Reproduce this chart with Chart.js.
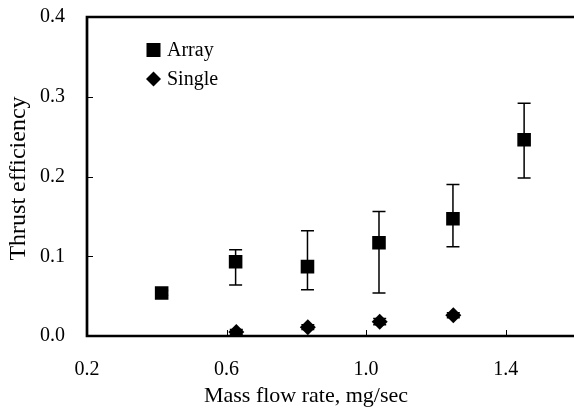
<!DOCTYPE html>
<html>
<head>
<meta charset="utf-8">
<script src="https://cdn.jsdelivr.net/npm/chart.js@4.4.1/dist/chart.umd.min.js"></script>
<style>
html,body{margin:0;padding:0;background:#fff;overflow:hidden;}
#wrap{width:585px;height:408px;position:relative;}
</style>
</head>
<body>
<div id="wrap"><canvas id="c" width="585" height="408"></canvas></div>
<script>
// Data
const arrayFlow = [0.414, 0.626, 0.832, 1.037, 1.249, 1.453];
const arrayEff  = [0.054, 0.093, 0.087, 0.117, 0.147, 0.246];
const arrayHigh = [0.057, 0.108, 0.132, 0.156, 0.190, 0.292];
const arrayLow  = [0.051, 0.064, 0.058, 0.054, 0.112, 0.198];

const singleFlow = [0.628, 0.833, 1.039, 1.250];
const singleEff  = [0.005, 0.011, 0.018, 0.026];
const singleHigh = [0.008, 0.014, 0.022, 0.029];
const singleLow  = [0.002, 0.008, 0.014, 0.023];

const xTicks = [0.2, 0.6, 1.0, 1.4];
const yTicks = [0.0, 0.1, 0.2, 0.3, 0.4];

const xTitle = 'Mass flow rate, mg/sec';
const yTitle = 'Thrust efficiency';

const FONT = "'Liberation Serif', 'Times New Roman', serif";

function pts(xs, ys){ return xs.map((x,i)=>({x:x, y:ys[i]})); }

const errorBars = {
  id:'errorBars',
  afterDatasetsDraw(chart){
    const ctx = chart.ctx, xs = chart.scales.x, ys = chart.scales.y;
    chart.data.datasets.forEach(ds=>{
      ctx.save();
      ctx.strokeStyle = '#000';
      ctx.lineWidth = 1.5;
      ds.data.forEach((p,i)=>{
        const px = xs.getPixelForValue(p.x);
        const hi = ys.getPixelForValue(ds.errHigh[i]);
        const lo = ys.getPixelForValue(ds.errLow[i]);
        ctx.beginPath();
        ctx.moveTo(px, hi); ctx.lineTo(px, lo);
        ctx.moveTo(px-6.5, hi); ctx.lineTo(px+6.5, hi);
        ctx.moveTo(px-6.5, lo); ctx.lineTo(px+6.5, lo);
        ctx.stroke();
      });
      ctx.restore();
    });
  }
};

const frame = {
  id:'frame',
  afterDraw(chart){
    const ctx = chart.ctx, a = chart.chartArea, xs = chart.scales.x, ys = chart.scales.y;
    ctx.save();
    ctx.strokeStyle = '#000';
    // inner ticks
    ctx.lineWidth = 1;
    yTicks.forEach(v=>{
      const py = Math.round(ys.getPixelForValue(v))+0.5;
      ctx.beginPath(); ctx.moveTo(a.left, py); ctx.lineTo(a.left+6, py); ctx.stroke();
    });
    xTicks.forEach(v=>{
      const px = Math.round(xs.getPixelForValue(v))+0.5;
      ctx.beginPath(); ctx.moveTo(px, a.bottom); ctx.lineTo(px, a.bottom-6); ctx.stroke();
    });
    // frame
    ctx.lineWidth = 2.7;
    ctx.beginPath();
    ctx.moveTo(a.right, a.bottom); ctx.lineTo(a.left, a.bottom); ctx.lineTo(a.left, a.top); ctx.lineTo(a.right, a.top);
    ctx.lineTo(a.right, a.bottom);
    ctx.stroke();
    // axis titles
    ctx.fillStyle = '#000';
    ctx.textAlign = 'center';
    ctx.textBaseline = 'alphabetic';
    ctx.font = '22px ' + FONT;
    ctx.fillText(xTitle, 306, 402);
    ctx.save();
    ctx.translate(25, 178.5);
    ctx.rotate(-Math.PI/2);
    ctx.font = '24px ' + FONT;
    ctx.fillText(yTitle, 0, 0);
    ctx.restore();
    // legend
    ctx.font = '20px ' + FONT;
    ctx.textBaseline = 'middle';
    ctx.textAlign = 'left';
    const ds = chart.data.datasets;
    ctx.fillRect(146.5, 43, 14, 14);
    ctx.fillText(ds[0].label, 167, 51);
    const cx = 153.5, cy = 79;
    ctx.beginPath();
    ctx.moveTo(cx, cy-7.5); ctx.lineTo(cx+7.5, cy); ctx.lineTo(cx, cy+7.5); ctx.lineTo(cx-7.5, cy); ctx.closePath();
    ctx.fill();
    ctx.fillText(ds[1].label, 167, 80);
    ctx.restore();
  }
};

function noPad(s){ s.paddingLeft = 0; s.paddingRight = 0; s.paddingTop = 0; s.paddingBottom = 0; }

new Chart(document.getElementById('c'), {
  type:'scatter',
  data:{
    datasets:[
      {label:'Array', data:pts(arrayFlow, arrayEff), errHigh:arrayHigh, errLow:arrayLow,
       pointStyle:'rect', pointRadius:9.6, backgroundColor:'#000', borderColor:'#000', borderWidth:0},
      {label:'Single', data:pts(singleFlow, singleEff), errHigh:singleHigh, errLow:singleLow,
       pointStyle:'rectRot', pointRadius:8, backgroundColor:'#000', borderColor:'#000', borderWidth:0}
    ]
  },
  options:{
    responsive:false,
    animation:false,
    layout:{padding:{top:17, right:0, left:0, bottom:0}},
    plugins:{legend:{display:false}, tooltip:{enabled:false}},
    scales:{
      x:{
        type:'linear', min:0.2, max:1.6,
        afterBuildTicks(s){ s.ticks = xTicks.map(v=>({value:v})); },
        afterFit(s){ s.height = 72; noPad(s); },
        grid:{display:false, drawTicks:false},
        border:{display:false},
        ticks:{color:'#000', padding:22, font:{family:FONT, size:20}, callback:v=>v.toFixed(1)},
        title:{display:false}
      },
      y:{
        type:'linear', min:0, max:0.4,
        afterBuildTicks(s){ s.ticks = yTicks.map(v=>({value:v})); },
        afterFit(s){ s.width = 87; noPad(s); },
        grid:{display:false, drawTicks:false},
        border:{display:false},
        ticks:{color:'#000', padding:22, font:{family:FONT, size:20}, callback:v=>v.toFixed(1)},
        title:{display:false}
      }
    }
  },
  plugins:[errorBars, frame]
});
</script>
</body>
</html>
